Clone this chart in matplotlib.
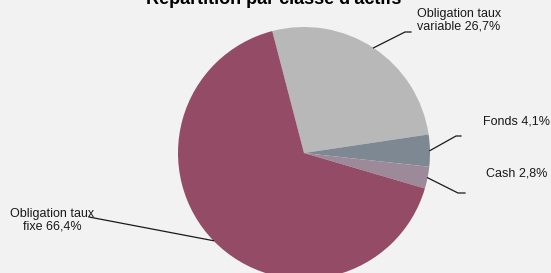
import numpy as np
import matplotlib
matplotlib.use('Agg')
import matplotlib.pyplot as plt

# data
categories = ["Obligation taux variable", "Fonds", "Cash", "Obligation taux fixe"]
shares = [26.7, 4.1, 2.8, 66.4]
labels = ["Obligation taux\nvariable 26,7%", "Fonds 4,1%", "Cash 2,8%", "Obligation taux\nfixe 66,4%"]
colors = ["#b8b8b8", "#7e8893", "#9c8a9b", "#944b65"]

W, H = 551, 273
bg = "#f2f2f2"

fig = plt.figure(figsize=(W / 100, H / 100), dpi=100, facecolor=bg)
ax = fig.add_axes([0, 0, 1, 1])
ax.set_facecolor(bg)

cx, cy, r = 304, 120, 126
wedges, _ = ax.pie(shares, colors=colors, startangle=104.6, counterclock=False,
                   center=(cx, cy), radius=r, frame=True,
                   wedgeprops=dict(linewidth=0))
ax.set_xlim(0, W)
ax.set_ylim(0, H)
ax.set_aspect('equal')
ax.axis('off')

# label placement (elbow point, end point, text anchor) in pixel coords (y down)
layout = [
    ((405, 32), (411, 32), (417, 20), 'left'),
    ((456, 136), (461, 136), (483, 122), 'left'),
    ((458, 193), (465, 193), (486, 174), 'left'),
    ((89, 217), (89, 217), (52, 220), 'center'),
]

for w, lab, (elb, end, txt, ha) in zip(wedges, labels, layout):
    mid = np.deg2rad((w.theta1 + w.theta2) / 2)
    x0 = cx + r * np.cos(mid)
    y0 = cy + r * np.sin(mid)
    ax.plot([x0, elb[0], end[0]], [y0, H - elb[1], H - end[1]],
            color="#1a1a1a", lw=0.9, clip_on=False)
    ax.text(txt[0], H - txt[1], lab, ha=ha, va='center', fontsize=9,
            family='Liberation Sans', color="#1a1a1a", linespacing=1.05)

ax.text(273.5, H - 4, "Répartition par classe d'actifs", ha='center', va='baseline',
        fontsize=13, fontweight='bold', family='Liberation Sans', color="#000000")

fig.savefig("out.png", dpi=100, facecolor=bg)
